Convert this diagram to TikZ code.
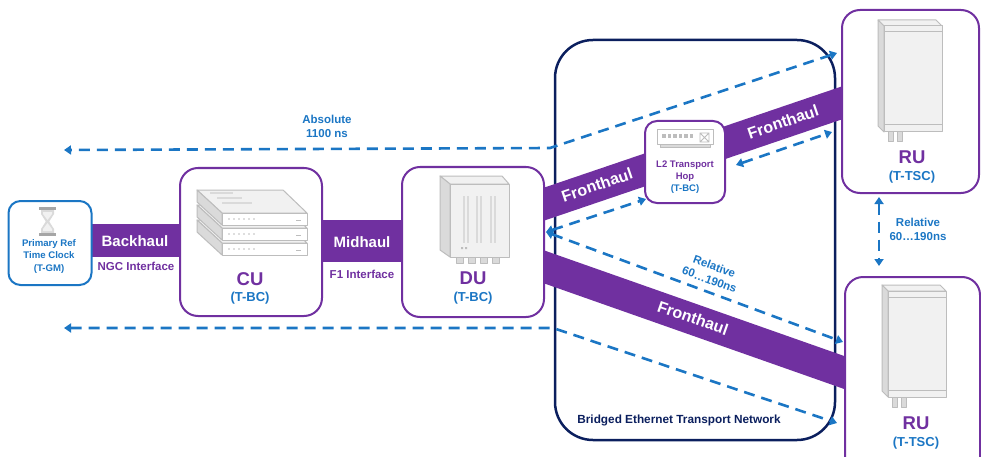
\documentclass[tikz,border=0pt]{standalone}
\usepackage{fontspec}
\setmainfont{Liberation Sans}
\usetikzlibrary{arrows.meta}
\definecolor{oranpurple}{HTML}{7030A0}
\definecolor{syncblue}{HTML}{1B76C4}
\definecolor{netnavy}{HTML}{0B1F5E}
\definecolor{iconline}{HTML}{BDBDBD}
\definecolor{iconfill}{HTML}{F1F1F1}
\definecolor{iconside}{HTML}{DADADA}

\begin{document}
\begin{tikzpicture}[x=1pt,y=-1pt,
  unitbox/.style={draw=oranpurple,line width=2pt,rounded corners=18pt,fill=white,inner sep=0pt},
  band/.style={fill=oranpurple},
  bandlabel/.style={text=white,font=\bfseries\fontsize{15}{15}\selectfont},
  fhlabel/.style={text=white,font=\bfseries\fontsize{16}{16}\selectfont},
  iface/.style={text=oranpurple,font=\bfseries\fontsize{11.5}{12}\selectfont},
  unitname/.style={text=oranpurple,font=\bfseries\fontsize{18.5}{18}\selectfont},
  clockrole/.style={text=syncblue,font=\bfseries\fontsize{13}{13}\selectfont},
  timing/.style={text=syncblue,font=\bfseries\fontsize{11.5}{14}\selectfont,align=center},
  tip/.tip={Triangle[length=7pt,width=9pt]},
  syncline/.style={draw=syncblue,line width=2.6pt,dash pattern=on 11pt off 7pt},
  icon/.style={draw=iconline,fill=iconfill,line width=1pt,line join=round},
]
\useasboundingbox (0,0) rectangle (981,457);

% transport network enclosure
\node[draw=netnavy,line width=2.5pt,rounded corners=38pt,minimum width=280pt,minimum height=400pt,inner sep=0pt] (net) at (695,240) {};
\node[text=netnavy,font=\bfseries\fontsize{11.8}{12}\selectfont] (netlabel) at (679,420) {Bridged Ethernet Transport Network};

% links
\fill[band] (91,224) rectangle (181,257);
\fill[band] (321,220) rectangle (403,262);
\fill[band] (543,188) -- (843,86) -- (843,119) -- (543,221) -- cycle;
\fill[band] (543,250) -- (847,357) -- (847,390) -- (543,283) -- cycle;

% grandmaster clock
\node[draw=syncblue,line width=2pt,rounded corners=12pt,fill=white,minimum width=83pt,minimum height=84pt,inner sep=0pt] (prc) at (50,243) {};
\fill[iconside] (41,210) -- (54,210) -- (54,214) -- (49.2,221.5) -- (54,229) -- (54,233) -- (41,233) -- (41,229) -- (45.8,221.5) -- (41,214) -- cycle;
\fill[iconfill] (43,212) -- (52,212) -- (52,214) -- (47.5,220) -- (43,214) -- cycle;
\fill[iconfill] (47.5,223) -- (52,229) -- (52,231) -- (43,231) -- (43,229) -- cycle;
\fill[gray!70] (39,207) rectangle (56,210);
\fill[gray!70] (39,233) rectangle (56,236);
\node[text=syncblue,font=\bfseries\fontsize{9.6}{12.5}\selectfont,align=center] (prctext) at (49,256.5) {Primary Ref\\Time Clock\\(T-GM)};

% central unit
\node[unitbox,minimum width=142pt,minimum height=148pt] (cu) at (251,242) {};
\foreach \dy in {30,15,0}{
  \filldraw[icon] (197,190+\dy) -- (283,190+\dy) -- (307,213+\dy) -- (222,213+\dy) -- cycle;
  \filldraw[icon,fill=iconside] (197,190+\dy) -- (222,213+\dy) -- (222,225+\dy) -- (197,202+\dy) -- cycle;
  \filldraw[icon,fill=white] (222,213+\dy) rectangle (307,225+\dy);
  \foreach \k in {0,...,5} \fill[iconline] (229+\k*5,219+\dy) circle (0.9);
  \draw[iconline,line width=1pt] (296,220+\dy) -- (301,220+\dy);
}
\draw[iconside,line width=1.5pt] (210,193) -- (233,193) (217,198) -- (242,198) (222,203) -- (252,203);
\node[unitname] (cuname) at (250,279) {CU};
\node[clockrole] (curole) at (250,298) {(T-BC)};

% distributed unit
\node[unitbox,minimum width=142pt,minimum height=150pt] (du) at (473,242) {};
\filldraw[icon] (440,176) -- (502,176) -- (509,184) -- (450,184) -- cycle;
\filldraw[icon,fill=iconside] (440,176) -- (450,184) -- (450,257) -- (440,250) -- cycle;
\filldraw[icon] (450,184) rectangle (509,257);
\foreach \x in {464,468,477,481,491,495}
  \draw[iconside,line width=1.2pt] (\x,196) -- (\x,243);
\fill[iconline] (461,247) rectangle (463,249) (465,247) rectangle (467,249);
\foreach \x in {456,468,480,492}
  \filldraw[icon,fill=iconside] (\x,257) rectangle (\x+7,263);
\node[unitname] (duname) at (473,278) {DU};
\node[clockrole] (durole) at (473,298) {(T-BC)};

% layer-2 transport hop
\node[unitbox,rounded corners=12pt,minimum width=80pt,minimum height=82pt] (hop) at (685,162) {};
\filldraw[icon,fill=white] (657,130) rectangle (713,145);
\filldraw[icon,fill=iconside] (660,145) rectangle (710,148);
\foreach \k in {0,...,5} \fill[iconline] (662+\k*5.5,134) rectangle (665.5+\k*5.5,138);
\draw[iconline,line width=0.8pt] (700,133) rectangle (709,142) (700,133) -- (709,142) (709,133) -- (700,142);
\node[text=oranpurple,font=\bfseries\fontsize{9.5}{12}\selectfont,align=center] (hopname) at (685,171) {L2 Transport\\Hop};
\node[text=syncblue,font=\bfseries\fontsize{9.5}{12}\selectfont] (hoprole) at (685,189) {(T-BC)};

% radio units
\tikzset{radiobody/.style={}}
\node[unitbox,minimum width=137pt,minimum height=183pt] (rutop) at (910.5,101.5) {};
\node[unitbox,minimum width=135pt,minimum height=205pt] (rubot) at (912.5,379.5) {};
\foreach \sx/\sy in {878/20,882/285}{
  \begin{scope}[shift={(\sx,\sy)}]
    \filldraw[icon] (0,0) -- (58,0) -- (64,6) -- (6,6) -- cycle;
    \filldraw[icon,fill=iconside] (0,0) -- (6,6) -- (6,112) -- (0,106) -- cycle;
    \filldraw[icon] (6,6) rectangle (64,112);
    \draw[iconline,line width=1pt] (6,12) -- (64,12) (6,105) -- (64,105);
    \filldraw[icon,fill=iconside] (10,112) rectangle (15,122) (19,112) rectangle (24,122);
  \end{scope}
}
\node[unitname] (rutopname) at (912,157) {RU};
\node[clockrole] (rutoprole) at (912,177) {(T-TSC)};
\node[unitname] (rubotname) at (916,423) {RU};
\node[clockrole] (rubotrole) at (916,443) {(T-TSC)};

% link labels
\node[bandlabel] (bhlabel) at (135,241) {Backhaul};
\node[iface] (bhiface) at (136,266) {NGC Interface};
\node[bandlabel] (mhlabel) at (362,242) {Midhaul};
\node[iface] (mhiface) at (362,274) {F1 Interface};
\node[fhlabel,rotate=18.8] (fh1) at (597,185) {Fronthaul};
\node[fhlabel,rotate=18.8] (fh2) at (783,122) {Fronthaul};
\node[fhlabel,rotate=-19.4] (fh3) at (693,318) {Fronthaul};

% timing paths
\coordinate (absTopR) at (837,53);
\coordinate (absTopK) at (550,148);
\coordinate (absTopL) at (64,150);
\coordinate (absBotL) at (64,328);
\coordinate (absBotK) at (553,328);
\coordinate (absBotR) at (837,423);
\coordinate (duPort) at (546,232);
\coordinate (hopIn) at (646,199);
\coordinate (hopOut) at (736,165);
\coordinate (ruTopIn) at (832,132);
\coordinate (ruBotIn) at (843,342);
\coordinate (ruTopDown) at (879,197);
\coordinate (ruBotUp) at (879,266);

\draw[syncline,tip-tip] (absTopR) -- (absTopK) -- (absTopL);
\draw[syncline,tip-tip] (absBotL) -- (absBotK) -- (absBotR);
\draw[syncline,tip-tip] (duPort) -- (hopIn);
\draw[syncline,tip-tip] (duPort) -- (ruBotIn);
\draw[syncline,tip-tip] (hopOut) -- (ruTopIn);
\draw[syncline,tip-tip] (ruTopDown) -- (ruBotUp);

\node[timing] (abslabel) at (327,126) {Absolute\\1100 ns};
\node[timing,rotate=-20] (rellabel) at (712,273) {Relative\\60\ldots190ns};
\node[timing] (rurel) at (918,229) {Relative\\60\ldots190ns};
\end{tikzpicture}
\end{document}
